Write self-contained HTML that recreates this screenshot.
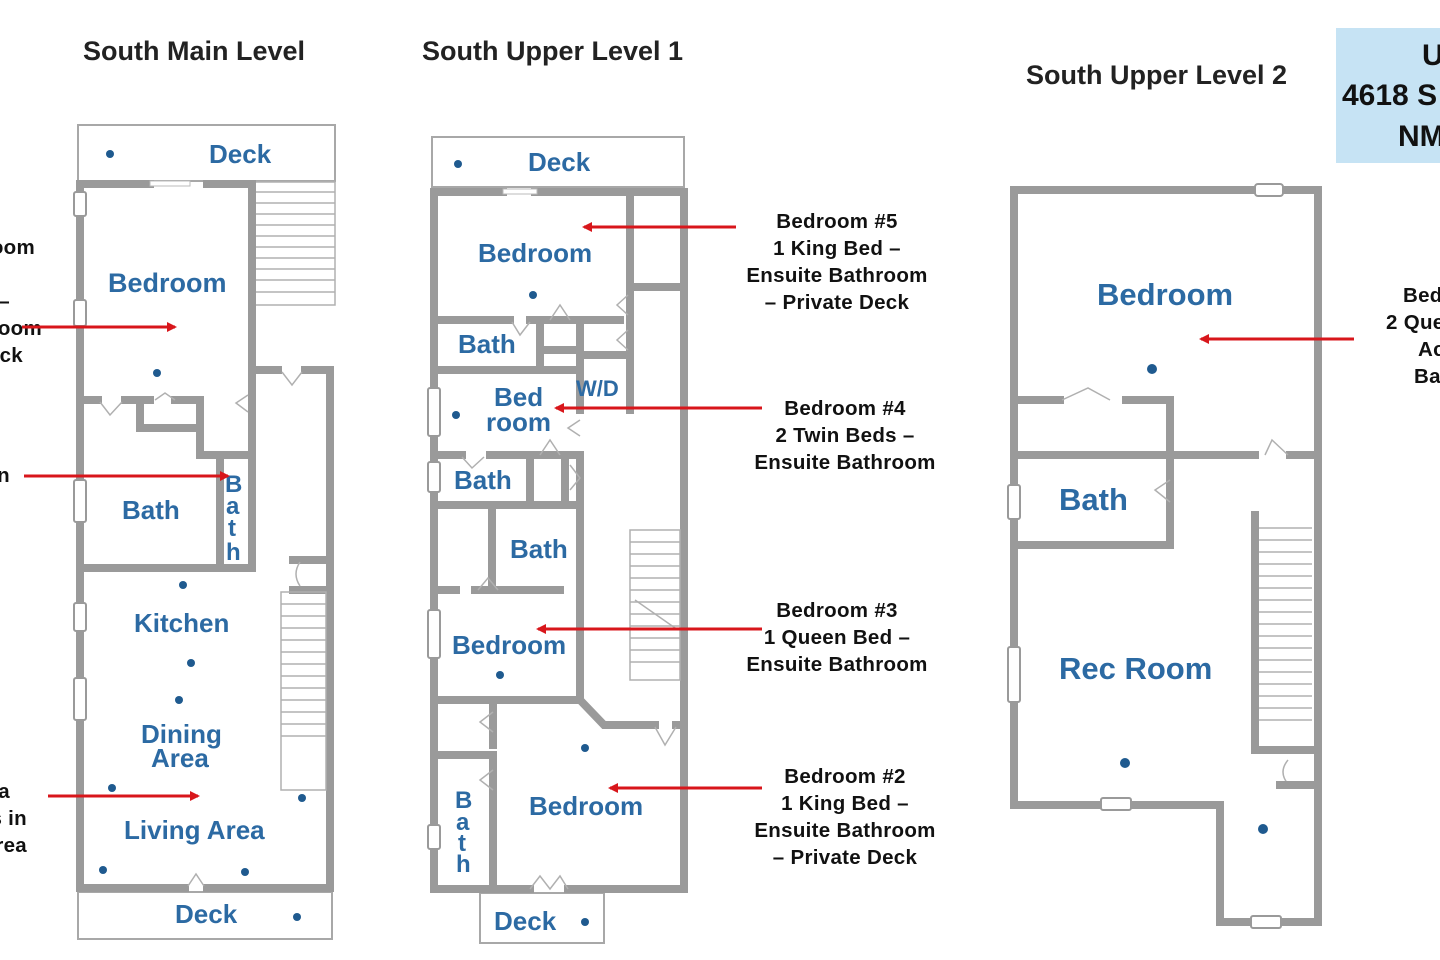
<!DOCTYPE html>
<html><head><meta charset="utf-8"><style>
html,body{margin:0;padding:0;background:#fff;}
svg{display:block;}
.w{stroke:#9a9a9a;stroke-width:8;fill:none;stroke-linecap:square;}
.t{stroke:#a8a8a8;stroke-width:2;fill:none;}
.s{stroke:#b0b0b0;stroke-width:1.5;fill:none;}
.lbl{font-family:"Liberation Sans",sans-serif;font-weight:bold;fill:#2c6aa3;}
.ttl{font-family:"Liberation Sans",sans-serif;font-weight:bold;fill:#222;font-size:27px;}
.ann{font-family:"Liberation Sans",sans-serif;font-weight:bold;fill:#111;font-size:20.5px;letter-spacing:0.3px;}
.dot{fill:#1f5a8f;}
.win{fill:#fff;stroke:#9a9a9a;stroke-width:2;}
.ar{stroke:#d8161b;stroke-width:3;fill:none;}
</style></head><body>
<svg width="1440" height="960" viewBox="0 0 1440 960" xmlns="http://www.w3.org/2000/svg">
<defs>
<marker id="ah" markerWidth="10" markerHeight="10" refX="8" refY="5" orient="auto" markerUnits="userSpaceOnUse">
<path d="M0,0 L10,5 L0,10 z" fill="#d8161b"/></marker>
</defs>

<text class="ttl" x="83" y="60">South Main Level</text>
<text class="ttl" x="422" y="60">South Upper Level 1</text>
<text class="ttl" x="1026" y="84">South Upper Level 2</text>
<rect x="1336" y="28" width="104" height="135" fill="#c6e3f4"/>
<text x="1422" y="65" font-family="Liberation Sans,sans-serif" font-weight="bold" font-size="30" fill="#111">U</text>
<text x="1342" y="105" font-family="Liberation Sans,sans-serif" font-weight="bold" font-size="30" fill="#111">4618 S</text>
<text x="1398" y="146" font-family="Liberation Sans,sans-serif" font-weight="bold" font-size="30" fill="#111">NM</text>

<!-- ===== PLAN 1 ===== -->
<rect class="t" x="78" y="125" width="257" height="56"/>
<rect class="t" x="78" y="892" width="254" height="47"/>
<g class="s">
<rect x="255" y="182" width="80" height="123"/>
<line x1="255" y1="192" x2="335" y2="192"/><line x1="255" y1="203" x2="335" y2="203"/><line x1="255" y1="214" x2="335" y2="214"/>
<line x1="255" y1="225" x2="335" y2="225"/><line x1="255" y1="236" x2="335" y2="236"/><line x1="255" y1="247" x2="335" y2="247"/>
<line x1="255" y1="258" x2="335" y2="258"/><line x1="255" y1="269" x2="335" y2="269"/><line x1="255" y1="280" x2="335" y2="280"/><line x1="255" y1="292" x2="335" y2="292"/>
</g>
<path class="w" d="M150,184 H80 V888 H185 M207,888 H330 V370 H305 M278,370 H252 V184 H207"/>
<path class="w" d="M86,400 H98 M125,400 H150 M140,402 V428 H200 V455 H248 M175,400 H200 V455 M220,455 V565 M84,568 H252 V370"/>
<rect x="150" y="181" width="40" height="5" fill="#fff" stroke="#bbb"/>
<path class="w" d="M293,560 H326 M293,590 H326"/>
<path class="s" d="M300,562 q-8,12 0,24"/>
<g class="s"><rect x="281" y="592" width="45" height="198"/>
<line x1="281" y1="604" x2="326" y2="604"/><line x1="281" y1="616" x2="326" y2="616"/><line x1="281" y1="628" x2="326" y2="628"/><line x1="281" y1="640" x2="326" y2="640"/><line x1="281" y1="652" x2="326" y2="652"/><line x1="281" y1="664" x2="326" y2="664"/><line x1="281" y1="676" x2="326" y2="676"/><line x1="281" y1="688" x2="326" y2="688"/><line x1="281" y1="700" x2="326" y2="700"/><line x1="281" y1="712" x2="326" y2="712"/><line x1="281" y1="724" x2="326" y2="724"/><line x1="281" y1="736" x2="326" y2="736"/></g>
<path class="s" d="M100,402 L110,415 L122,402 M155,400 L165,393 L175,400 M248,395 L236,403 L248,412 M282,372 L292,385 L302,372 M188,886 L196,874 L204,886"/>
<rect class="win" x="74" y="192" width="12" height="24" rx="2"/>
<rect class="win" x="74" y="300" width="12" height="26" rx="2"/>
<rect class="win" x="74" y="480" width="12" height="42" rx="2"/>
<rect class="win" x="74" y="603" width="12" height="28" rx="2"/>
<rect class="win" x="74" y="678" width="12" height="42" rx="2"/>
<text class="lbl" x="209" y="163" font-size="26">Deck</text>
<text class="lbl" x="108" y="292" font-size="27">Bedroom</text>
<text class="lbl" x="122" y="519" font-size="26">Bath</text>
<text class="lbl" x="225" y="492" font-size="24">B</text><text class="lbl" x="226" y="514" font-size="24">a</text><text class="lbl" x="228" y="536" font-size="24">t</text><text class="lbl" x="226" y="560" font-size="24">h</text>
<text class="lbl" x="134" y="632" font-size="26">Kitchen</text>
<text class="lbl" x="141" y="743" font-size="26">Dining</text>
<text class="lbl" x="151" y="767" font-size="26">Area</text>
<text class="lbl" x="124" y="839" font-size="26">Living Area</text>
<text class="lbl" x="175" y="923" font-size="26">Deck</text>
<g class="dot"><circle cx="110" cy="154" r="4"/><circle cx="157" cy="373" r="4"/><circle cx="183" cy="585" r="4"/><circle cx="191" cy="663" r="4"/><circle cx="179" cy="700" r="4"/><circle cx="112" cy="788" r="4"/><circle cx="302" cy="798" r="4"/><circle cx="103" cy="870" r="4"/><circle cx="245" cy="872" r="4"/><circle cx="297" cy="917" r="4"/></g>

<!-- ===== PLAN 2 ===== -->
<rect class="t" x="432" y="137" width="252" height="50"/>
<rect class="t" x="480" y="893" width="124" height="50"/>
<path class="w" d="M503,192 H434 V889 H530 M568,889 H684 V192 H535"/>
<rect x="503" y="189" width="34" height="5" fill="#fff" stroke="#bbb"/>
<path class="w" d="M630,195 V290 M632,287 H684 M630,298 V410"/>
<path class="w" d="M438,320 H510 M530,320 H620 M540,322 V370 M580,322 V410 M542,350 H578 M582,355 H628 M438,370 H580"/>
<path class="w" d="M438,455 H462 M490,455 H580 V505 M530,457 V503 M565,457 V503 M438,505 H580"/>
<path class="w" d="M492,507 V588 M438,590 H456 M475,590 H560 M580,505 V700"/>
<path class="w" d="M438,700 H580 L604,725 H655 M676,725 H684 M493,702 V745 M438,755 H493 V889"/>
<g class="s"><rect x="630" y="530" width="50" height="150"/>
<line x1="630" y1="542" x2="680" y2="542"/><line x1="630" y1="554" x2="680" y2="554"/><line x1="630" y1="566" x2="680" y2="566"/><line x1="630" y1="578" x2="680" y2="578"/><line x1="630" y1="590" x2="680" y2="590"/><line x1="630" y1="602" x2="680" y2="602"/><line x1="630" y1="614" x2="680" y2="614"/><line x1="630" y1="626" x2="680" y2="626"/><line x1="630" y1="638" x2="680" y2="638"/><line x1="630" y1="650" x2="680" y2="650"/><line x1="630" y1="662" x2="680" y2="662"/><line x1="635" y1="600" x2="678" y2="630"/></g>
<path class="s" d="M628,295 L617,305 L628,315 M628,330 L617,340 L628,350 M550,320 L560,305 L570,320 M512,322 L520,335 L530,322 M580,420 L568,428 L580,436 M462,457 L472,468 L484,457 M540,455 L550,440 L560,455 M570,465 L580,478 L570,490 M478,590 L488,578 L498,590 M493,712 L480,722 L493,732 M493,770 L480,780 L493,790 M655,727 L665,745 L676,727 M530,889 L540,876 L550,889 L560,876 L568,889"/>
<rect class="win" x="428" y="388" width="12" height="48" rx="2"/>
<rect class="win" x="428" y="462" width="12" height="30" rx="2"/>
<rect class="win" x="428" y="610" width="12" height="48" rx="2"/>
<rect class="win" x="428" y="825" width="12" height="24" rx="2"/>
<text class="lbl" x="528" y="171" font-size="26">Deck</text>
<text class="lbl" x="478" y="262" font-size="26">Bedroom</text>
<text class="lbl" x="458" y="353" font-size="26">Bath</text>
<text class="lbl" x="576" y="396" font-size="22">W/D</text>
<text class="lbl" x="494" y="406" font-size="26">Bed</text>
<text class="lbl" x="486" y="431" font-size="26">room</text>
<text class="lbl" x="454" y="489" font-size="26">Bath</text>
<text class="lbl" x="510" y="558" font-size="26">Bath</text>
<text class="lbl" x="452" y="654" font-size="26">Bedroom</text>
<text class="lbl" x="529" y="815" font-size="26">Bedroom</text>
<text class="lbl" x="455" y="808" font-size="24">B</text><text class="lbl" x="456" y="830" font-size="24">a</text><text class="lbl" x="458" y="851" font-size="24">t</text><text class="lbl" x="456" y="872" font-size="24">h</text>
<text class="lbl" x="494" y="930" font-size="26">Deck</text>
<g class="dot"><circle cx="458" cy="164" r="4"/><circle cx="533" cy="295" r="4"/><circle cx="456" cy="415" r="4"/><circle cx="500" cy="675" r="4"/><circle cx="585" cy="748" r="4"/><circle cx="585" cy="922" r="4"/></g>

<!-- ===== PLAN 3 ===== -->
<path class="w" d="M1256,190 H1014 V805 H1220 V922 H1318 V190 H1282"/>
<rect class="win" x="1255" y="184" width="28" height="12" rx="3"/>
<path class="w" d="M1018,400 H1060 M1126,400 H1170 V545 H1018 M1018,455 H1255 M1290,455 H1312"/>
<path class="s" d="M1062,400 L1088,388 L1110,400 M1170,480 L1155,490 L1170,502 M1265,455 L1272,440 L1288,455 M1288,760 q-10,12 0,24"/>
<path class="w" d="M1255,515 V750 H1312 M1280,785 H1312"/>
<g class="s"><line x1="1259" y1="528" x2="1312" y2="528"/><line x1="1259" y1="540" x2="1312" y2="540"/><line x1="1259" y1="552" x2="1312" y2="552"/><line x1="1259" y1="564" x2="1312" y2="564"/><line x1="1259" y1="576" x2="1312" y2="576"/><line x1="1259" y1="588" x2="1312" y2="588"/><line x1="1259" y1="600" x2="1312" y2="600"/><line x1="1259" y1="612" x2="1312" y2="612"/><line x1="1259" y1="624" x2="1312" y2="624"/><line x1="1259" y1="636" x2="1312" y2="636"/><line x1="1259" y1="648" x2="1312" y2="648"/><line x1="1259" y1="660" x2="1312" y2="660"/><line x1="1259" y1="672" x2="1312" y2="672"/><line x1="1259" y1="684" x2="1312" y2="684"/><line x1="1259" y1="696" x2="1312" y2="696"/><line x1="1259" y1="708" x2="1312" y2="708"/><line x1="1259" y1="720" x2="1312" y2="720"/></g>
<rect class="win" x="1008" y="485" width="12" height="34" rx="2"/>
<rect class="win" x="1008" y="647" width="12" height="55" rx="2"/>
<rect class="win" x="1101" y="798" width="30" height="12" rx="2"/>
<rect class="win" x="1251" y="916" width="30" height="12" rx="2"/>
<text class="lbl" x="1097" y="305" font-size="31">Bedroom</text>
<text class="lbl" x="1059" y="510" font-size="31">Bath</text>
<text class="lbl" x="1059" y="679" font-size="31">Rec Room</text>
<g class="dot"><circle cx="1152" cy="369" r="5"/><circle cx="1125" cy="763" r="5"/><circle cx="1263" cy="829" r="5"/></g>

<!-- ===== Annotations & arrows ===== -->
<g class="ann">
<text x="35" y="254" text-anchor="end">oom</text>
<text x="10" y="308" text-anchor="end">–</text>
<text x="42" y="335" text-anchor="end">oom</text>
<text x="23" y="362" text-anchor="end">ck</text>
<text x="10" y="482" text-anchor="end">n</text>
<text x="10" y="798" text-anchor="end">a</text>
<text x="27" y="825" text-anchor="end">s in</text>
<text x="27" y="852" text-anchor="end">rea</text>
<g text-anchor="middle">
<text x="837" y="228">Bedroom #5</text>
<text x="837" y="255">1 King Bed –</text>
<text x="837" y="282">Ensuite Bathroom</text>
<text x="837" y="309">– Private Deck</text>
<text x="845" y="415">Bedroom #4</text>
<text x="845" y="442">2 Twin Beds –</text>
<text x="845" y="469">Ensuite Bathroom</text>
<text x="837" y="617">Bedroom #3</text>
<text x="837" y="644">1 Queen Bed –</text>
<text x="837" y="671">Ensuite Bathroom</text>
<text x="845" y="783">Bedroom #2</text>
<text x="845" y="810">1 King Bed –</text>
<text x="845" y="837">Ensuite Bathroom</text>
<text x="845" y="864">– Private Deck</text>
</g>
<text x="1403" y="302">Bed</text>
<text x="1386" y="329">2 Que</text>
<text x="1418" y="356">Ac</text>
<text x="1414" y="383">Ba</text>
</g>
<g class="ar" marker-end="url(#ah)">
<line x1="22" y1="327" x2="175" y2="327"/>
<line x1="24" y1="476" x2="228" y2="476"/>
<line x1="48" y1="796" x2="198" y2="796"/>
<line x1="736" y1="227" x2="584" y2="227"/>
<line x1="762" y1="408" x2="556" y2="408"/>
<line x1="762" y1="629" x2="538" y2="629"/>
<line x1="762" y1="788" x2="610" y2="788"/>
<line x1="1354" y1="339" x2="1201" y2="339"/>
</g>
</svg>
</body></html>
